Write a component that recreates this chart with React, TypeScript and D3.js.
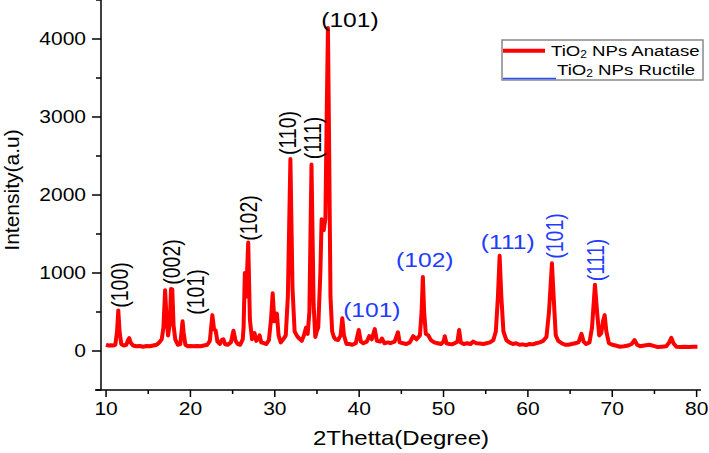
import React, { useEffect, useRef } from 'react';
import * as d3 from 'd3';

// XRD pattern: 2θ (degree) and intensity (a.u)
const twoTheta = [
  10.0, 10.3, 10.6, 10.9, 11.1, 11.3, 11.45, 11.6, 11.8, 12.1, 12.4, 12.6, 12.75, 12.9, 13.2, 13.6,
  14.0, 14.4, 14.8, 15.2, 15.6, 16.0, 16.3, 16.6, 16.8, 17.0, 17.15, 17.35, 17.55, 17.7, 17.85, 18.0,
  18.2, 18.5, 18.8, 18.95, 19.07, 19.2, 19.4, 19.7, 20.0, 20.4, 20.8, 21.2, 21.6, 22.0, 22.3, 22.6,
  22.8, 23.0, 23.2, 23.5, 23.7, 23.9, 24.1, 24.4, 24.8, 25.1, 25.35, 25.6, 25.9, 26.2, 26.3, 26.45,
  26.6, 26.85, 27.05, 27.3, 27.6, 27.8, 28.0, 28.2, 28.4, 28.7, 29.0, 29.3, 29.55, 29.75, 29.95, 30.25,
  30.45, 30.7, 31.0, 31.3, 31.55, 31.85, 32.1, 32.35, 32.6, 32.8, 33.0, 33.2, 33.45, 33.7, 33.9, 34.1,
  34.35, 34.6, 34.8, 35.0, 35.15, 35.4, 35.55, 35.8, 36.0, 36.15, 36.3, 36.45, 36.6, 36.8, 37.0, 37.2,
  37.5, 37.8, 38.0, 38.2, 38.5, 38.8, 39.2, 39.6, 39.95, 40.2, 40.5, 40.9, 41.2, 41.5, 41.85, 42.1,
  42.5, 42.7, 43.0, 43.4, 43.7, 44.2, 44.6, 44.8, 45.2, 45.6, 46.0, 46.4, 46.8, 47.2, 47.4, 47.55,
  47.7, 47.9, 48.2, 48.5, 48.9, 49.3, 49.7, 50.0, 50.15, 50.35, 50.7, 51.0, 51.3, 51.65, 51.85, 52.05,
  52.4, 52.8, 53.2, 53.5, 53.9, 54.3, 54.7, 55.1, 55.5, 55.9, 56.2, 56.45, 56.65, 56.85, 57.1, 57.45,
  57.8, 58.2, 58.6, 59.0, 59.4, 59.8, 60.2, 60.6, 61.0, 61.4, 61.8, 62.2, 62.5, 62.85, 63.05, 63.3,
  63.6, 64.0, 64.4, 64.8, 65.2, 65.6, 66.0, 66.35, 66.6, 66.9, 67.3, 67.6, 67.95, 68.2, 68.45, 68.7,
  68.9, 69.1, 69.3, 69.6, 70.0, 70.4, 70.9, 71.4, 71.9, 72.3, 72.65, 72.95, 73.3, 73.8, 74.4, 74.9,
  75.4, 75.9, 76.4, 76.75, 77.0, 77.25, 77.6, 78.1, 78.6, 79.1, 79.6, 80.1,
];
const intensity = [
  80, 70, 75, 70, 80, 250, 520, 250, 90, 70, 80, 140, 165, 110, 70, 60,
  65, 55, 65, 60, 70, 80, 110, 150, 300, 780, 450, 200, 350, 795, 790, 330,
  150, 80, 90, 250, 380, 230, 80, 60, 65, 60, 65, 60, 70, 80, 130, 460,
  280, 260, 120, 90, 140, 150, 90, 80, 110, 260, 130, 90, 80, 150, 300, 1000,
  700, 1390, 400, 150, 230, 130, 150, 200, 110, 100, 90, 140, 400, 740, 380, 480,
  200, 110, 150, 200, 700, 2460, 800, 250, 200, 170, 150, 130, 200, 300, 220, 500,
  2390, 600, 180, 260, 300, 1000, 1690, 1550, 1700, 3000, 4140, 2500, 700, 250, 180, 150,
  140, 200, 420, 200, 90, 90, 80, 100, 270, 120, 100, 120, 190, 150, 280, 130,
  120, 160, 100, 110, 100, 120, 240, 110, 100, 90, 110, 190, 150, 200, 500, 950,
  500, 220, 200, 140, 110, 100, 90, 120, 190, 100, 90, 85, 100, 120, 270, 110,
  90, 100, 90, 120, 100, 95, 90, 100, 110, 140, 250, 700, 1220, 700, 250, 140,
  110, 90, 100, 80, 85, 75, 90, 85, 100, 110, 130, 180, 500, 1125, 700, 200,
  130, 100, 80, 80, 90, 100, 110, 220, 120, 90, 110, 300, 850, 500, 200, 230,
  380, 460, 250, 100, 80, 70, 55, 60, 70, 90, 140, 80, 60, 70, 80, 65,
  50, 55, 60, 110, 170, 100, 55, 50, 55, 50, 55, 55,
];

const xTicks = [10, 20, 30, 40, 50, 60, 70, 80];
const xMinorTicks = [15, 25, 35, 45, 55, 65, 75];
const yTicks = [0, 1000, 2000, 3000, 4000];
const yMinorTicks = [-500, 500, 1500, 2500, 3500, 4500];

// Miller-index labels: text, 2θ and intensity where the label sits, phase
const peakNames = ['(100)', '(002)', '(101)', '(102)', '(110)', '(111)', '(101)', '(101)', '(102)', '(111)', '(101)', '(111)'];
const peakTheta = [11.66, 17.82, 20.66, 26.97, 31.67, 34.52, 38.9, 41.5, 47.78, 57.61, 63.3, 68.15];
const peakLevel = [846, 1141, 756, 1705, 2795, 2731, 4244, 526, 1167, 1397, 1474, 1167];
const peakPhase = ['A', 'A', 'A', 'A', 'A', 'A', 'A', 'R', 'R', 'R', 'R', 'R'];
const peakUpright = [false, false, false, false, false, false, true, true, true, true, false, false];

const legendNames = ['Anatase', 'Ructile'];

const W = 709;
const H = 453;
const SX = 1.2; // the source image is stretched sideways

export default function App() {
  const svgRef = useRef<SVGSVGElement>(null);

  useEffect(() => {
    if (!svgRef.current) return;
    const svg = d3.select(svgRef.current);
    svg.selectAll('*').remove();

    const x = d3.scaleLinear().domain([9.4, 80.4]).range([101, 700]);
    const y = d3.scaleLinear().domain([-500, 4500]).range([390, 0]);
    const font = '"Liberation Sans", Arial, sans-serif';

    const addText = (g: any, tx: number, ty: number, str: string, size: number, opts: any = {}) => {
      const t = g.append('text')
        .attr('transform', `translate(${tx},${ty}) scale(${opts.sx ?? SX},1)${opts.rot ? ' rotate(-90)' : ''}`)
        .attr('font-family', font)
        .attr('font-size', size)
        .attr('fill', opts.fill ?? '#000')
        .attr('text-anchor', opts.anchor ?? 'middle')
        .text(str);
      if (opts.central) t.attr('dominant-baseline', 'central');
      return t;
    };

    // curve
    const pts = twoTheta.map((d, i) => [d, intensity[i]] as [number, number]);
    const line = d3.line<[number, number]>().x(d => x(d[0])).y(d => y(d[1]));
    svg.append('path')
      .datum(pts)
      .attr('d', line)
      .attr('fill', 'none')
      .attr('stroke', '#ff0000')
      .attr('stroke-width', 4)
      .attr('stroke-linejoin', 'round');

    // axes
    const ax = svg.append('g').attr('stroke', '#000').attr('stroke-width', 1.5);
    ax.append('line').attr('x1', 101).attr('x2', 101).attr('y1', 0).attr('y2', 390);
    ax.append('line').attr('x1', 95).attr('x2', 701).attr('y1', 390).attr('y2', 390);
    yTicks.forEach(v => ax.append('line').attr('x1', 92).attr('x2', 101).attr('y1', y(v)).attr('y2', y(v)));
    yMinorTicks.forEach(v => ax.append('line').attr('x1', 96).attr('x2', 101).attr('y1', y(v)).attr('y2', y(v)));
    xTicks.forEach(v => ax.append('line').attr('x1', x(v)).attr('x2', x(v)).attr('y1', 390).attr('y2', 397));
    xMinorTicks.forEach(v => ax.append('line').attr('x1', x(v)).attr('x2', x(v)).attr('y1', 390).attr('y2', 394));

    const labels = svg.append('g');
    yTicks.forEach(v => addText(labels, 86, y(v) + 6, String(v), 17.5, { anchor: 'end' }));
    xTicks.forEach(v => addText(labels, x(v), 415, String(v), 17.5));

    addText(labels, 401, 445, '2Thetta(Degree)', 20);
    addText(labels, 19, 190, 'Intensity(a.u)', 21, { rot: true, sx: 1 });

    // peak labels
    peakNames.forEach((name, i) => {
      addText(labels, x(peakTheta[i]), y(peakLevel[i]), name, peakUpright[i] ? 20.5 : 19.5, {
        rot: !peakUpright[i],
        central: true,
        fill: peakPhase[i] === 'A' ? '#000' : '#1f3cff',
      });
    });

    // legend
    const lg = svg.append('g');
    lg.append('rect').attr('x', 502).attr('y', 40).attr('width', 201).attr('height', 40)
      .attr('fill', '#fff').attr('stroke', '#888').attr('stroke-width', 1.5);
    lg.append('line').attr('x1', 503).attr('x2', 545).attr('y1', 50.7).attr('y2', 50.7)
      .attr('stroke', '#ff0000').attr('stroke-width', 4);
    lg.append('line').attr('x1', 503).attr('x2', 556).attr('y1', 78.5).attr('y2', 78.5)
      .attr('stroke', '#2a4cff').attr('stroke-width', 1.5);
    const legendPos = [[551, 56], [557, 75]];
    legendNames.forEach((name, i) => {
      const t = addText(lg, legendPos[i][0], legendPos[i][1], '', 15.5, { anchor: 'start' });
      t.append('tspan').text('TiO');
      t.append('tspan').attr('font-size', 10).attr('dy', 1.5).text('2');
      t.append('tspan').attr('dy', -1.5).text(` NPs ${name}`);
    });
  }, []);

  return (
    <svg
      ref={svgRef}
      width={W}
      height={H}
      style={{ position: 'absolute', left: 0, top: 0, background: '#fff' }}
    />
  );
}
